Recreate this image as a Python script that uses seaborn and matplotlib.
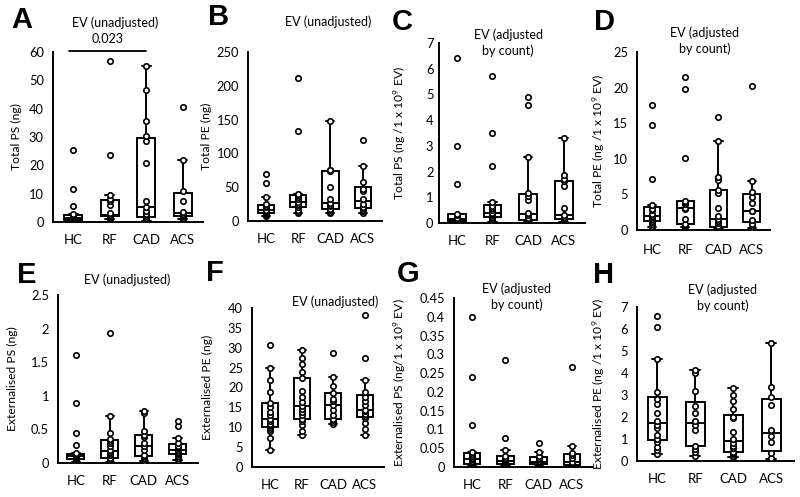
import numpy as np
import pandas as pd
import matplotlib
matplotlib.use("Agg")
import matplotlib.pyplot as plt
import seaborn as sns

groups = ["HC", "RF", "CAD", "ACS"]

# Panel A: Total PS (ng), EV unadjusted
A_HC = [0.1, 0.2, 0.3, 0.5, 0.6, 0.8, 1.0, 1.2, 1.5, 1.8, 2.1, 2.3, 2.9, 5.5, 11.5, 25.5]
A_RF = [1.2, 1.5, 1.7, 1.9, 2.1, 2.3, 2.4, 2.6, 3.3, 6.0, 7.5, 8.0, 9.6, 23.5, 57]
A_CAD = [0.5, 0.9, 1.2, 1.5, 2.2, 3.0, 4.0, 5.3, 7.3, 21, 28.5, 30.5, 35.5, 46.5, 55]
A_ACS = [1.0, 1.5, 2.0, 2.5, 3.0, 3.5, 7.5, 11, 22, 40.5]

# Panel B: Total PE (ng), EV unadjusted
B_HC = [7, 9, 11, 12, 13, 14, 15, 17, 20, 22, 25, 35, 56, 70]
B_RF = [12, 14, 16, 20, 24, 25, 28, 33, 36, 38, 40, 133, 212]
B_CAD = [12, 14, 16, 18, 22, 24, 26, 33, 50, 74, 75, 75, 148]
B_ACS = [12, 15, 17, 19, 21, 25, 33, 45, 47, 58, 82, 120]

# Panel C: Total PS (ng / 1x10^9 EV)
C_HC = [0.02, 0.04, 0.06, 0.08, 0.1, 0.12, 0.15, 0.2, 0.3, 0.35, 1.5, 3.0, 6.4]
C_RF = [0.05, 0.1, 0.15, 0.2, 0.25, 0.3, 0.35, 0.38, 0.4, 0.5, 0.6, 0.65, 0.8, 2.2, 3.5, 5.7]
C_CAD = [0.02, 0.04, 0.06, 0.1, 0.15, 0.2, 0.3, 0.4, 0.9, 1.05, 1.15, 2.55, 4.6, 4.9]
C_ACS = [0.03, 0.06, 0.1, 0.15, 0.2, 0.25, 0.3, 0.6, 1.45, 1.65, 1.7, 1.85, 3.3]

# Panel D: Total PE (ng / 1x10^9 EV)
D_HC = [0.4, 0.6, 0.9, 1.1, 1.3, 1.6, 1.8, 2.0, 2.3, 2.8, 3.0, 3.5, 7.2, 14.8, 17.5]
D_RF = [0.4, 0.5, 0.7, 0.8, 1.6, 3.0, 3.1, 3.7, 4.0, 4.1, 10.1, 19.8, 21.5]
D_CAD = [0.2, 0.25, 0.3, 0.35, 0.4, 0.6, 1.0, 1.3, 1.5, 2.0, 3.1, 5.2, 5.6, 7.0, 7.5, 12.5, 15.9]
D_ACS = [0.3, 0.6, 0.9, 1.4, 2.7, 2.7, 3.8, 4.7, 5.3, 6.9, 20.2]

# Panel E: Externalised PS (ng)
E_HC = [0.02, 0.03, 0.04, 0.05, 0.05, 0.06, 0.07, 0.08, 0.09, 0.1, 0.1, 0.11, 0.12, 0.12, 0.13, 0.15, 0.27, 0.44, 0.9, 1.6]
E_RF = [0.02, 0.03, 0.05, 0.06, 0.08, 0.12, 0.15, 0.17, 0.2, 0.25, 0.3, 0.33, 0.35, 0.44, 0.7, 1.93]
E_CAD = [0.03, 0.06, 0.08, 0.1, 0.12, 0.2, 0.25, 0.3, 0.38, 0.42, 0.48, 0.74, 0.78]
E_ACS = [0.04, 0.08, 0.11, 0.13, 0.15, 0.17, 0.19, 0.2, 0.22, 0.24, 0.26, 0.3, 0.37, 0.55, 0.62]

# Panel F: Externalised PE (ng)
F_HC = [4.4, 7.3, 9.0, 9.5, 10.0, 10.5, 10.9, 11.5, 12.2, 13.0, 13.9, 15.0, 16.2, 18.8, 21.8, 24.8, 30.6]
F_RF = [8.0, 9.0, 10.5, 11.5, 12.0, 13.0, 13.8, 14.5, 15.3, 16.3, 17.5, 19.0, 22.4, 23.8, 26.0, 27.5, 29.5]
F_CAD = [10.9, 11.3, 11.8, 12.2, 13.0, 14.3, 15.7, 16.5, 17.2, 18.5, 20.3, 22.7, 28.6]
F_ACS = [8.0, 9.5, 11.0, 12.3, 12.8, 13.3, 14.0, 14.4, 15.5, 16.5, 17.5, 18.9, 21.8, 27.3, 38.2]

# Panel G: Externalised PS (ng / 1x10^9 EV)
G_HC = [0.002, 0.004, 0.006, 0.008, 0.01, 0.012, 0.015, 0.02, 0.025, 0.03, 0.035, 0.04, 0.113, 0.24, 0.4]
G_RF = [0.002, 0.004, 0.006, 0.008, 0.01, 0.013, 0.015, 0.018, 0.02, 0.024, 0.03, 0.045, 0.077, 0.286]
G_CAD = [0.002, 0.004, 0.006, 0.009, 0.011, 0.013, 0.016, 0.02, 0.025, 0.03, 0.04, 0.065]
G_ACS = [0.002, 0.003, 0.005, 0.007, 0.01, 0.012, 0.025, 0.033, 0.036, 0.057, 0.266]

# Panel H: Externalised PE (ng / 1x10^9 EV)
H_HC = [0.3, 0.5, 0.65, 0.85, 1.0, 1.2, 1.5, 1.65, 1.8, 2.2, 2.6, 2.8, 3.15, 4.65, 6.08, 6.6]
H_RF = [0.25, 0.4, 0.55, 0.7, 1.4, 1.65, 1.8, 2.2, 2.5, 3.2, 4.0, 4.15]
H_CAD = [0.2, 0.25, 0.3, 0.35, 0.4, 0.6, 0.7, 0.8, 1.0, 1.3, 1.95, 2.0, 2.35, 2.75, 3.0, 3.3]
H_ACS = [0.1, 0.15, 0.35, 0.85, 1.15, 1.4, 2.55, 2.9, 3.35, 5.35]

ylabels = {
    "A": "Total PS (ng)",
    "B": "Total PE (ng)",
    "C": "Total PS (ng /1 x 10$^{9}$ EV)",
    "D": "Total PE (ng /1 x 10$^{9}$ EV)",
    "E": "Externalised PS (ng)",
    "F": "Externalised PE (ng)",
    "G": "Externalised PS (ng/1 x 10$^{9}$ EV)",
    "H": "Externalised PE (ng /1 x 10$^{9}$ EV)",
}
title_unadj = "EV (unadjusted)"
title_adj = "EV (adjusted\nby count)"
sig_label = "0.023"
sig_pair = ("HC", "CAD")

sns.set_theme(style="white")
plt.rcParams["font.family"] = ["Lato", "DejaVu Sans"]
plt.rcParams["mathtext.fontset"] = "custom"
plt.rcParams["mathtext.rm"] = "Lato"
plt.rcParams["mathtext.it"] = "Lato:italic"
plt.rcParams["mathtext.bf"] = "Lato:bold"

W, Hpx = 800, 497
fig = plt.figure(figsize=(8, 4.97), dpi=100)
fig.patch.set_facecolor("white")


def rect(l, r, t, b):
    return [l / W, 1 - b / Hpx, (r - l) / W, (b - t) / Hpx]


panels = [
    dict(k="A", v=[A_HC, A_RF, A_CAD, A_ACS], ymax=60, step=10, box=(53, 203, 52, 222), xlim=(-0.55, 3.55),
         title=title_unadj, tpos=(115, 23), lpos=(22, 20), ylx=22, xpad=8.5),
    dict(k="B", v=[B_HC, B_RF, B_CAD, B_ACS], ymax=250, step=50, box=(248, 382, 52, 221), xlim=(-0.56, 3.6),
         title=title_unadj, tpos=(328, 22), lpos=(219, 17), ylx=212, xpad=8.5),
    dict(k="C", v=[C_HC, C_RF, C_CAD, C_ACS], ymax=7, step=1, box=(439, 585, 43, 223), xlim=(-0.5, 3.6),
         title=title_adj, tpos=(508, 43), lpos=(402, 22), ylx=408, xpad=8.5),
    dict(k="D", v=[D_HC, D_RF, D_CAD, D_ACS], ymax=25, step=5, box=(637, 770, 52, 230), xlim=(-0.45, 3.55),
         title=title_adj, tpos=(705, 41), lpos=(605, 22), ylx=607, xpad=10),
    dict(k="E", v=[E_HC, E_RF, E_CAD, E_ACS], ymax=2.5, step=0.5, box=(58, 198, 295, 463), xlim=(-0.53, 3.6),
         title=title_unadj, tpos=(127, 280), lpos=(27, 275), ylx=18, xpad=8.5),
    dict(k="F", v=[F_HC, F_RF, F_CAD, F_ACS], ymax=40, step=5, box=(252, 384, 308, 467), xlim=(-0.57, 3.6),
         title=title_unadj, tpos=(335, 302), lpos=(215, 273), ylx=213, xpad=8.5),
    dict(k="G", v=[G_HC, G_RF, G_CAD, G_ACS], ymax=0.45, step=0.05, box=(454, 592, 298, 467), xlim=(-0.54, 3.6),
         title=title_adj, tpos=(517, 297), lpos=(408, 274), ylx=408, xpad=8.5),
    dict(k="H", v=[H_HC, H_RF, H_CAD, H_ACS], ymax=7, step=1, box=(637, 794, 307, 461), xlim=(-0.53, 3.6),
         title=title_adj, tpos=(723, 298), lpos=(604, 275), ylx=607, xpad=8.5),
]


def fmt(v):
    return f"{round(v, 4):g}"


for p in panels:
    l, r, t, b = p["box"]
    ax = fig.add_axes(rect(l, r, t, b))
    rows = [(g, val) for g, vals in zip(groups, p["v"]) for val in vals]
    df = pd.DataFrame(rows, columns=["group", "value"])
    sns.boxplot(data=df, x="group", y="value", order=groups, ax=ax, width=0.5,
                whis=1.5, showfliers=False, color="white", linecolor="black",
                linewidth=1.4, fill=True)
    sns.stripplot(data=df, x="group", y="value", order=groups, ax=ax, jitter=False,
                  color="white", edgecolor="black", linewidth=1.2, size=3.9, zorder=5)
    ax.set_xlim(*p["xlim"])
    ax.set_ylim(0, p["ymax"])
    ticks = np.arange(0, p["ymax"] + p["step"] / 2, p["step"])
    ax.set_yticks(ticks)
    ax.set_yticklabels([fmt(tk) for tk in ticks])
    ax.set_xlabel("")
    ax.set_ylabel(ylabels[p["k"]], fontsize=8.7, color="black", labelpad=2)
    ax.yaxis.set_label_coords((p["ylx"] - l) / (r - l), 0.5)
    for s in ["top", "right"]:
        ax.spines[s].set_visible(False)
    for s in ["left", "bottom"]:
        ax.spines[s].set_visible(True)
        ax.spines[s].set_color("black")
        ax.spines[s].set_linewidth(1.4)
    ax.tick_params(axis="y", length=0, pad=6.5, labelsize=9.3, labelcolor="black")
    ax.tick_params(axis="x", length=0, pad=p["xpad"], labelsize=9.5, labelcolor="black")
    if p["k"] == "C":
        ax.tick_params(axis="y", pad=4)
    ax.set_facecolor("white")
    fig.text(p["tpos"][0] / W, 1 - p["tpos"][1] / Hpx, p["title"], ha="center", va="center",
             fontsize=9, linespacing=1.35, color="black")
    fig.text(p["lpos"][0] / W, 1 - p["lpos"][1] / Hpx, p["k"], ha="center", va="center",
             fontsize=21, fontweight="bold", family="Liberation Sans", color="black")
    if p["k"] == "A":
        i0, i1 = groups.index(sig_pair[0]), groups.index(sig_pair[1])
        ax.plot([i0 - 0.1, i1], [60.5, 60.5], color="black", lw=1.3, clip_on=False)
        ax.text((i0 - 0.1 + i1) / 2, 64.5, sig_label, ha="center", va="center", fontsize=9,
                color="black", clip_on=False)

fig.savefig("out.png", dpi=100, facecolor="white")
